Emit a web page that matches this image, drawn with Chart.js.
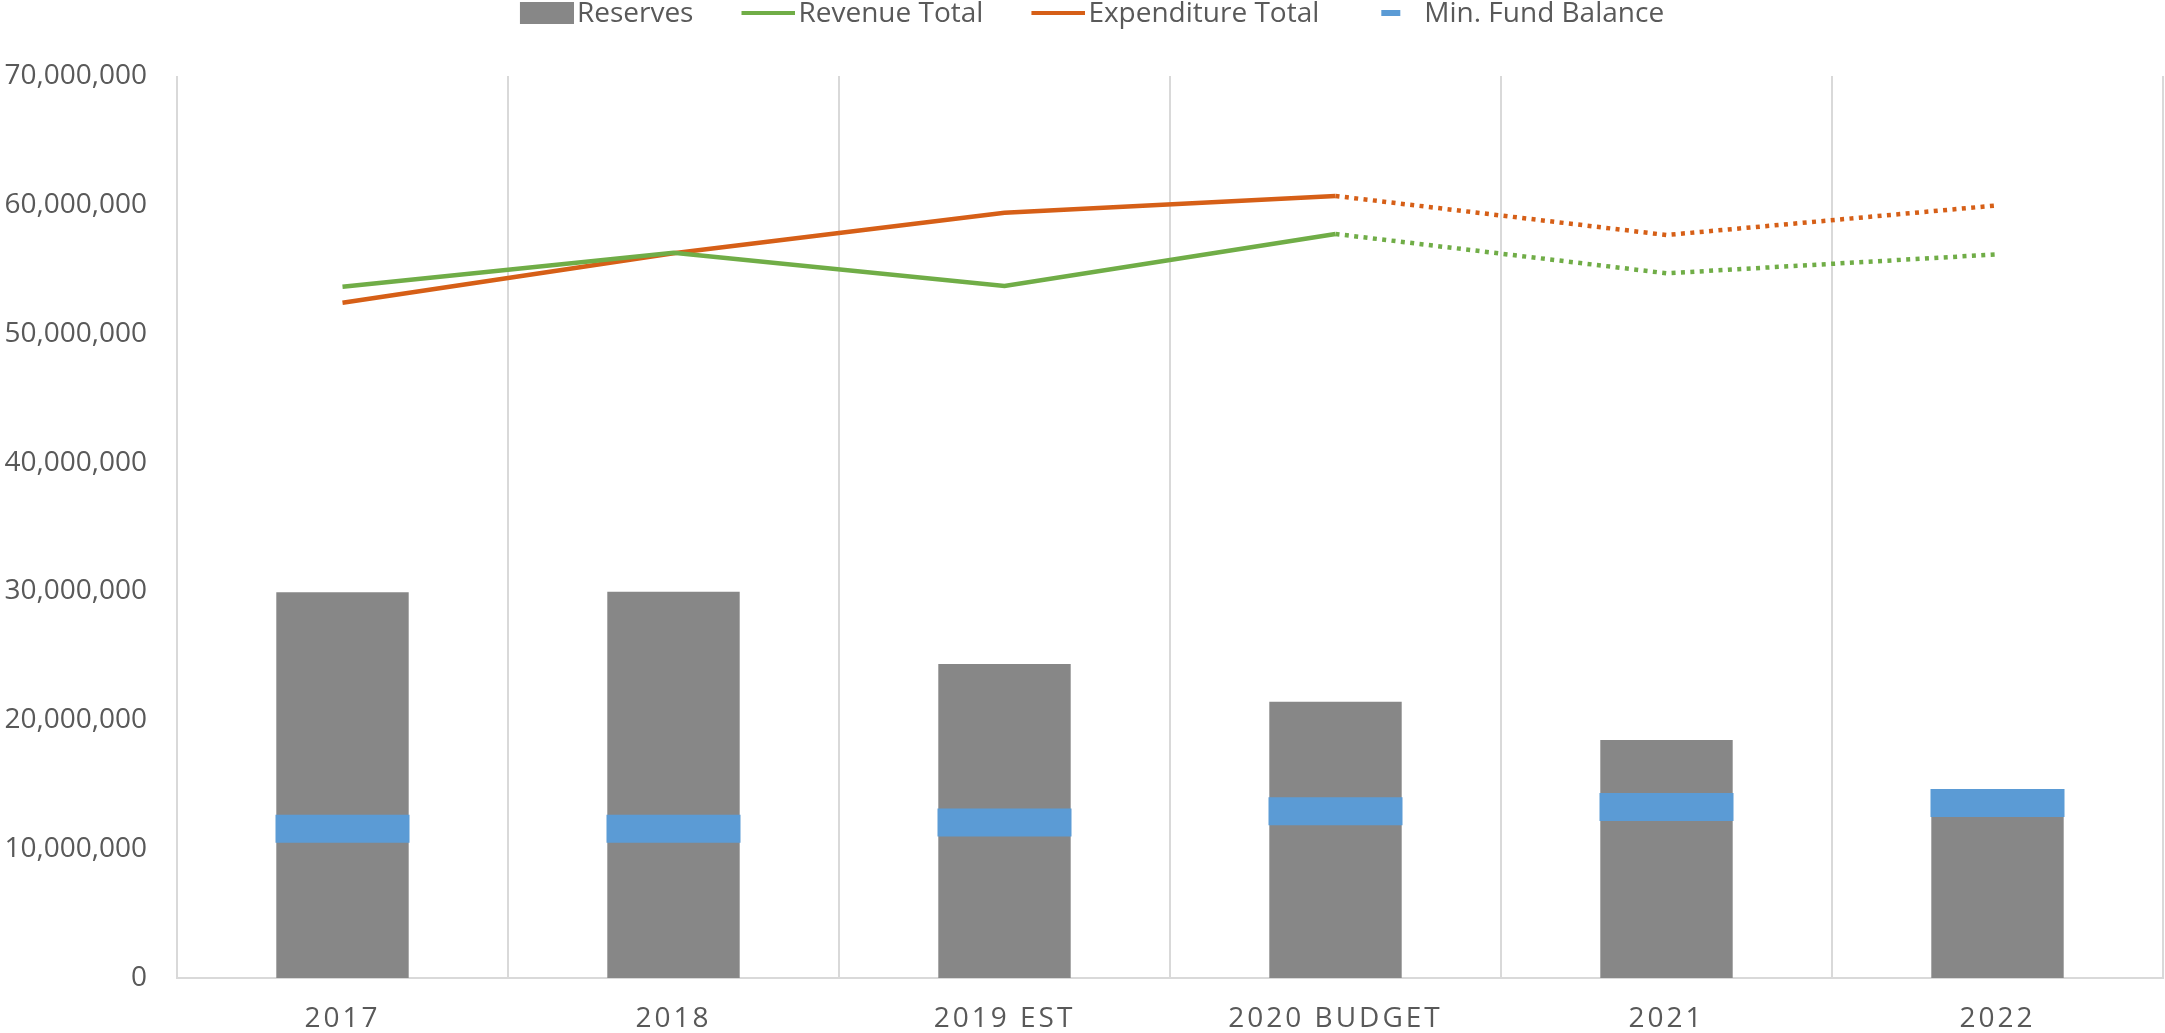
<!DOCTYPE html>
<html>
<head>
<meta charset="utf-8">
<script src="https://cdn.jsdelivr.net/npm/chart.js@4.4.1/dist/chart.umd.min.js"></script>
<style>
    html, body { margin: 0; padding: 0; background: #fff; }
    #area { width: 2165px; height: 1033px; }
</style>
</head>
<body>
<div id="area"><canvas id="grafico"></canvas></div>
<script>
const anos = ['2017', '2018', '2019 EST', '2020 BUDGET', '2021', '2022'];
const reservas = [29930000, 29980000, 24370000, 21440000, 18470000, 14000000];
const receitaTotal = [53650000, 56290000, 53700000, 57740000, 54690000, 56160000];
const despesaTotal = [52410000, 56250000, 59390000, 60690000, 57660000, 59960000];
const saldoMinimo = [11590000, 11590000, 12070000, 12940000, 13270000, 13580000];
const eixoYMin = 0;
const eixoYMax = 70000000;
const eixoYPasso = 10000000;

const CINZA = '#878787';
const VERDE = '#70AD47';
const LARANJA = '#D65F17';
const AZUL = '#5B9BD5';
const TEXTO = '#595959';
const GRADE = '#D9D9D9';
const fonte = { family: "'Open Sans', sans-serif", size: 28 };

// legenda: cada item tem uma imagem propria (estilo Excel)
const LARG_CAIXA = 91;
const LARG_IMG = LARG_CAIXA + fonte.size - 6;

function marcador(tipo, cor) {
    const c = document.createElement('canvas');
    c.width = LARG_IMG;
    c.height = 24;
    const g = c.getContext('2d');
    g.fillStyle = cor;
    if (tipo === 'caixa') g.fillRect(LARG_IMG - 54, 0, 54, 22);
    else if (tipo === 'linha') g.fillRect(LARG_IMG - 54, 9, 54, 4);
    else g.fillRect(LARG_IMG - 40, 8, 19, 6);
    return c;
}
const marcadores = [
    marcador('caixa', CINZA),
    marcador('linha', VERDE),
    marcador('linha', LARANJA),
    marcador('traco', AZUL)
];

// depois de 2020 BUDGET as linhas ficam pontilhadas
const pontilhado = ctx => ctx.p0DataIndex >= 3 ? [4, 5.4] : undefined;

const folgaLegenda = {
    id: 'folgaLegenda',
    beforeInit(chart) {
        const fitOriginal = chart.legend.fit;
        chart.legend.fit = function () {
            fitOriginal.call(this);
            this.height += 38;
            // puxa a legenda um pouco para a esquerda
            if (this.lineWidths && this.lineWidths.length) this.lineWidths[0] += 30;
        };
    }
};

const espacoLetras = {
    id: 'espacoLetras',
    beforeDraw(chart) {
        const eixoX = chart.scales.x;
        if (!eixoX || eixoX._comEspaco) return;
        const desenhar = eixoX.drawLabels;
        eixoX.drawLabels = function (area) {
            this.ctx.save();
            this.ctx.letterSpacing = '3px';
            desenhar.call(this, area);
            this.ctx.restore();
        };
        eixoX._comEspaco = true;
    }
};

new Chart(document.getElementById('grafico'), {
    type: 'bar',
    data: {
        labels: anos,
        datasets: [
            { type: 'bar', label: 'Reserves', data: reservas, backgroundColor: CINZA, barPercentage: 0.4, categoryPercentage: 1, order: 4 },
            { type: 'line', label: 'Revenue Total', data: receitaTotal, borderColor: VERDE, borderWidth: 4.5, pointRadius: 0, segment: { borderDash: pontilhado }, order: 1 },
            { type: 'line', label: 'Expenditure Total', data: despesaTotal, borderColor: LARANJA, borderWidth: 4.5, pointRadius: 0, segment: { borderDash: pontilhado }, order: 2 },
            { type: 'line', label: 'Min. Fund Balance', data: saldoMinimo, showLine: false, pointStyle: 'line', pointRadius: 67, pointHoverRadius: 67, pointBorderWidth: 28, pointBorderColor: AZUL, pointBackgroundColor: AZUL, order: 3 }
        ]
    },
    options: {
        responsive: true,
        maintainAspectRatio: false,
        animation: false,
        layout: { autoPadding: false, padding: { left: 3, right: 2, top: 0, bottom: 0 } },
        plugins: {
            tooltip: { enabled: false },
            legend: {
                position: 'top',
                align: 'center',
                labels: {
                    usePointStyle: true,
                    pointStyleWidth: LARG_CAIXA,
                    padding: 0,
                    color: TEXTO,
                    font: fonte,
                    generateLabels: chart => chart.data.datasets.map((ds, i) => ({
                        text: ds.label,
                        pointStyle: marcadores[i],
                        fillStyle: 'transparent',
                        strokeStyle: 'transparent',
                        lineWidth: 0,
                        hidden: false,
                        datasetIndex: i,
                        fontColor: TEXTO
                    }))
                }
            }
        },
        scales: {
            x: {
                offset: true,
                grid: { offset: true, color: GRADE, lineWidth: 2, drawTicks: false },
                border: { color: GRADE, width: 2 },
                ticks: { color: TEXTO, font: fonte, padding: 24, maxRotation: 0 },
                afterFit: eixo => { eixo.height = 55; }
            },
            y: {
                min: eixoYMin,
                max: eixoYMax,
                grid: { display: false, drawTicks: false },
                border: { display: false },
                ticks: {
                    stepSize: eixoYPasso,
                    padding: 30,
                    color: TEXTO,
                    font: fonte,
                    callback: v => v.toLocaleString('en-US')
                },
                afterFit: eixo => { eixo.width = 174; }
            }
        }
    },
    plugins: [folgaLegenda, espacoLetras]
});
</script>
</body>
</html>
